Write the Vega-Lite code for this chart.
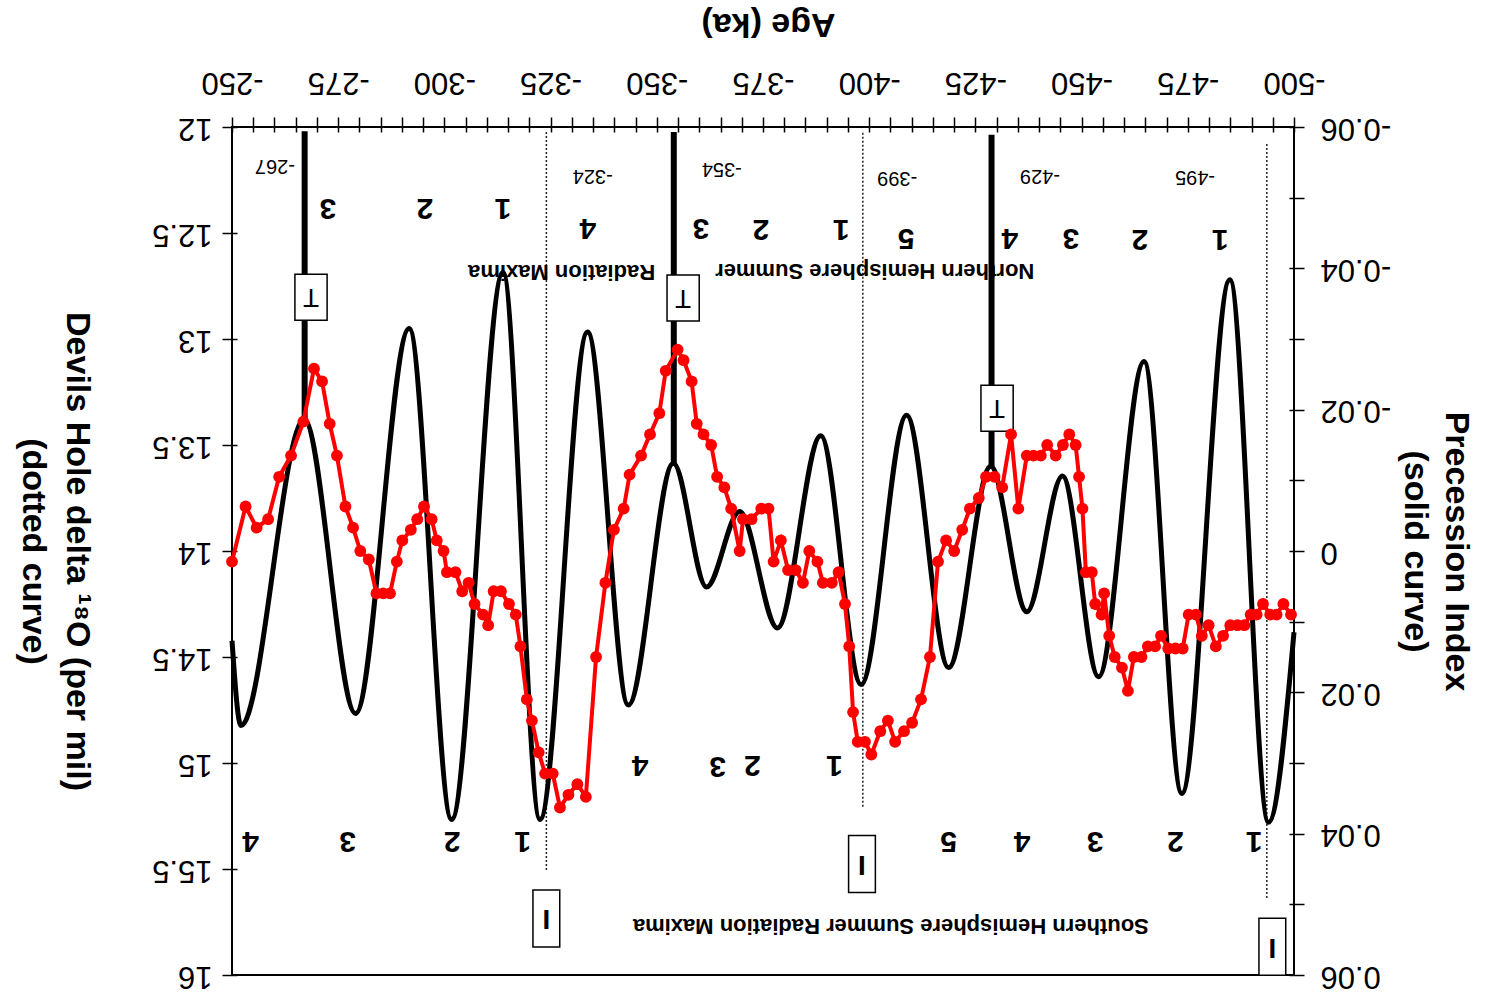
{
  "$schema": "https://vega.github.io/schema/vega-lite/v6.json",
  "width": 1062,
  "height": 848,
  "autosize": {"type": "none"},
  "padding": {"left": 232, "top": 127, "right": 192, "bottom": 25},
  "background": "white",
  "config": {
    "font": "Liberation Sans",
    "view": {"stroke": "black", "strokeWidth": 2},
    "axis": {"grid": false, "labelColor": "black", "tickColor": "black", "titleColor": "black", "labelFont": "Liberation Sans", "titleFont": "Liberation Sans", "labelOverlap": false, "labelFlush": false, "labelBound": false}
  },
  "datasets": {
    "precession": [
      {"age": -250, "p": 0.0127}, {"age": -252.1, "p": 0.0247}, {"age": -267, "p": -0.0186}, {"age": -279.1, "p": 0.023},
      {"age": -291.7, "p": -0.0315}, {"age": -301.7, "p": 0.038}, {"age": -313.8, "p": -0.0394}, {"age": -322.5, "p": 0.038},
      {"age": -333.7, "p": -0.031}, {"age": -343.3, "p": 0.0218}, {"age": -353.9, "p": -0.0124}, {"age": -361.7, "p": 0.0051},
      {"age": -369.5, "p": -0.0056}, {"age": -378.4, "p": 0.0109}, {"age": -388.6, "p": -0.0163}, {"age": -398.1, "p": 0.0189},
      {"age": -408.8, "p": -0.0192}, {"age": -418.7, "p": 0.0165}, {"age": -428.6, "p": -0.012}, {"age": -437.1, "p": 0.0086},
      {"age": -445.5, "p": -0.0106}, {"age": -454, "p": 0.0178}, {"age": -464.7, "p": -0.0268}, {"age": -473.6, "p": 0.0343},
      {"age": -484.9, "p": -0.0384}, {"age": -494, "p": 0.0384}, {"age": -500, "p": 0.0115}
    ],
    "d18o": [
      {"age": -250.0, "d": 14.05}, {"age": -253.2, "d": 13.79}, {"age": -255.8, "d": 13.89}, {"age": -258.5, "d": 13.85},
      {"age": -261.1, "d": 13.65}, {"age": -263.9, "d": 13.55}, {"age": -266.8, "d": 13.39}, {"age": -269.3, "d": 13.14},
      {"age": -271.2, "d": 13.2}, {"age": -273.0, "d": 13.4}, {"age": -274.7, "d": 13.55}, {"age": -276.7, "d": 13.79},
      {"age": -278.5, "d": 13.89}, {"age": -280.2, "d": 14.0}, {"age": -282.2, "d": 14.04}, {"age": -284.0, "d": 14.2},
      {"age": -285.6, "d": 14.2}, {"age": -287.2, "d": 14.2}, {"age": -288.8, "d": 14.05}, {"age": -290.1, "d": 13.95},
      {"age": -292.1, "d": 13.9}, {"age": -293.6, "d": 13.85}, {"age": -295.2, "d": 13.79}, {"age": -297.0, "d": 13.85},
      {"age": -298.2, "d": 13.95}, {"age": -299.8, "d": 14.0}, {"age": -300.6, "d": 14.1}, {"age": -302.6, "d": 14.1},
      {"age": -304.2, "d": 14.19}, {"age": -305.7, "d": 14.15}, {"age": -307.1, "d": 14.25}, {"age": -309.1, "d": 14.3},
      {"age": -310.3, "d": 14.35}, {"age": -311.6, "d": 14.19}, {"age": -313.3, "d": 14.19}, {"age": -315.2, "d": 14.25},
      {"age": -316.8, "d": 14.3}, {"age": -317.9, "d": 14.45}, {"age": -319.4, "d": 14.7}, {"age": -320.6, "d": 14.8},
      {"age": -322.2, "d": 14.95}, {"age": -323.7, "d": 15.05}, {"age": -325.5, "d": 15.05}, {"age": -327.2, "d": 15.21},
      {"age": -329.2, "d": 15.15}, {"age": -331.3, "d": 15.1}, {"age": -333.3, "d": 15.16}, {"age": -335.7, "d": 14.5},
      {"age": -337.9, "d": 14.15}, {"age": -339.9, "d": 13.9}, {"age": -342.2, "d": 13.8}, {"age": -343.6, "d": 13.64},
      {"age": -346.3, "d": 13.55}, {"age": -348.4, "d": 13.45}, {"age": -350.6, "d": 13.35}, {"age": -352.1, "d": 13.15},
      {"age": -354.9, "d": 13.05}, {"age": -356.3, "d": 13.1}, {"age": -358.2, "d": 13.2}, {"age": -359.4, "d": 13.4},
      {"age": -361.0, "d": 13.45}, {"age": -362.8, "d": 13.5}, {"age": -364.2, "d": 13.65}, {"age": -365.9, "d": 13.7},
      {"age": -367.5, "d": 13.8}, {"age": -369.5, "d": 14.0}, {"age": -370.3, "d": 13.85}, {"age": -372.3, "d": 13.85},
      {"age": -374.6, "d": 13.8}, {"age": -376.3, "d": 13.8}, {"age": -377.5, "d": 14.05}, {"age": -379.2, "d": 13.95},
      {"age": -380.9, "d": 14.09}, {"age": -382.7, "d": 14.09}, {"age": -384.4, "d": 14.15}, {"age": -385.9, "d": 14.0},
      {"age": -387.8, "d": 14.05}, {"age": -389.1, "d": 14.15}, {"age": -391.2, "d": 14.15}, {"age": -392.8, "d": 14.1},
      {"age": -394.3, "d": 14.25}, {"age": -395.3, "d": 14.45}, {"age": -396.2, "d": 14.76}, {"age": -397.3, "d": 14.9},
      {"age": -399.0, "d": 14.9}, {"age": -400.5, "d": 14.96}, {"age": -402.6, "d": 14.85}, {"age": -404.4, "d": 14.8},
      {"age": -406.1, "d": 14.9}, {"age": -408.2, "d": 14.85}, {"age": -410.1, "d": 14.81}, {"age": -412.2, "d": 14.7},
      {"age": -414.3, "d": 14.5}, {"age": -416.2, "d": 14.05}, {"age": -418.1, "d": 13.95}, {"age": -420.0, "d": 14.0},
      {"age": -421.9, "d": 13.9}, {"age": -423.7, "d": 13.8}, {"age": -425.8, "d": 13.75}, {"age": -427.5, "d": 13.65},
      {"age": -429.5, "d": 13.65}, {"age": -431.3, "d": 13.7}, {"age": -433.4, "d": 13.45}, {"age": -435.1, "d": 13.8},
      {"age": -437.1, "d": 13.55}, {"age": -438.7, "d": 13.55}, {"age": -440.4, "d": 13.55}, {"age": -441.9, "d": 13.5},
      {"age": -443.9, "d": 13.55}, {"age": -445.6, "d": 13.5}, {"age": -447.1, "d": 13.45}, {"age": -448.6, "d": 13.5},
      {"age": -449.4, "d": 13.65}, {"age": -450.2, "d": 13.8}, {"age": -451.0, "d": 14.1}, {"age": -452.4, "d": 14.1},
      {"age": -453.2, "d": 14.25}, {"age": -454.7, "d": 14.3}, {"age": -455.3, "d": 14.2}, {"age": -456.5, "d": 14.4},
      {"age": -457.8, "d": 14.5}, {"age": -459.5, "d": 14.55}, {"age": -460.9, "d": 14.66}, {"age": -462.3, "d": 14.5},
      {"age": -464.1, "d": 14.5}, {"age": -465.6, "d": 14.45}, {"age": -467.3, "d": 14.45}, {"age": -468.7, "d": 14.4},
      {"age": -470.4, "d": 14.46}, {"age": -472.1, "d": 14.46}, {"age": -473.8, "d": 14.46}, {"age": -475.2, "d": 14.3},
      {"age": -476.9, "d": 14.3}, {"age": -478.3, "d": 14.4}, {"age": -479.9, "d": 14.35}, {"age": -481.6, "d": 14.45},
      {"age": -483.3, "d": 14.4}, {"age": -485.0, "d": 14.35}, {"age": -486.7, "d": 14.35}, {"age": -488.3, "d": 14.35},
      {"age": -489.8, "d": 14.3}, {"age": -491.2, "d": 14.3}, {"age": -492.7, "d": 14.25}, {"age": -494.4, "d": 14.3},
      {"age": -495.9, "d": 14.3}, {"age": -497.5, "d": 14.25}, {"age": -499.3, "d": 14.3}
    ],
    "events": [
      {"age": -267.1, "p": -0.0594, "p2": -0.0186},
      {"age": -354.0, "p": -0.0593, "p2": -0.0124},
      {"age": -428.8, "p": -0.0589, "p2": -0.012}
    ],
    "dotted": [
      {"age": -324.0, "p": -0.0593, "p2": 0.0453},
      {"age": -398.5, "p": -0.0592, "p2": 0.0364},
      {"age": -493.6, "p": -0.0576, "p2": 0.0491}
    ],
    "numbers": [
      {"age": -272.6, "p": -0.0485, "label": "3"}, {"age": -295.4, "p": -0.0485, "label": "2"}, {"age": -313.8, "p": -0.0485, "label": "1"},
      {"age": -333.8, "p": -0.0457, "label": "4"}, {"age": -360.4, "p": -0.0457, "label": "3"}, {"age": -374.5, "p": -0.0456, "label": "2"},
      {"age": -393.4, "p": -0.0455, "label": "1"}, {"age": -408.7, "p": -0.0443, "label": "5"}, {"age": -433.1, "p": -0.0443, "label": "4"},
      {"age": -447.5, "p": -0.0443, "label": "3"}, {"age": -463.7, "p": -0.0442, "label": "2"}, {"age": -482.6, "p": -0.0442, "label": "1"},
      {"age": -346.1, "p": 0.0303, "label": "4"}, {"age": -364.3, "p": 0.0304, "label": "3"}, {"age": -372.5, "p": 0.0303, "label": "2"},
      {"age": -391.8, "p": 0.0303, "label": "1"},
      {"age": -254.4, "p": 0.041, "label": "4"}, {"age": -277.2, "p": 0.041, "label": "3"}, {"age": -301.8, "p": 0.041, "label": "2"},
      {"age": -318.4, "p": 0.041, "label": "1"}, {"age": -418.7, "p": 0.041, "label": "5"}, {"age": -436.0, "p": 0.041, "label": "4"},
      {"age": -453.2, "p": 0.041, "label": "3"}, {"age": -472.1, "p": 0.041, "label": "2"}, {"age": -490.6, "p": 0.041, "label": "1"}
    ],
    "agelabels": [
      {"age": -260.1, "p": -0.0545, "label": "-267"}, {"age": -334.9, "p": -0.0531, "label": "-324"},
      {"age": -365.3, "p": -0.0541, "label": "-354"}, {"age": -406.6, "p": -0.0528, "label": "-399"},
      {"age": -440.2, "p": -0.0531, "label": "-429"}, {"age": -476.7, "p": -0.0529, "label": "-495"}
    ],
    "captions": [
      {"age": -327.6, "p": -0.0395, "label": "Radiation Maxima"},
      {"age": -401.3, "p": -0.0396, "label": "Northern Hemisphere Summer"},
      {"age": -405.1, "p": 0.053, "label": "Southern Hemisphere Summer Radiation Maxima"}
    ],
    "tboxes": [
      {"age": -268.6, "p": -0.0359, "label": "T"}, {"age": -356.2, "p": -0.0358, "label": "T"}, {"age": -430.1, "p": -0.0202, "label": "T"}
    ],
    "iboxes": [
      {"age": -324.0, "p": 0.052, "label": "I"}, {"age": -398.3, "p": 0.0443, "label": "I"}, {"age": -494.9, "p": 0.056, "label": "I"}
    ]
  },
  "encoding": {
    "x": {
      "field": "age", "type": "quantitative",
      "scale": {"domain": [-500, -250], "reverse": true, "nice": false, "zero": false},
      "axis": {
        "orient": "top",
        "values": [-250,-255,-260,-265,-270,-275,-280,-285,-290,-295,-300,-305,-310,-315,-320,-325,-330,-335,-340,-345,-350,-355,-360,-365,-370,-375,-380,-385,-390,-395,-400,-405,-410,-415,-420,-425,-430,-435,-440,-445,-450,-455,-460,-465,-470,-475,-480,-485,-490,-495,-500],
        "labelExpr": "datum.value % 25 == 0 ? '' + datum.value : ''",
        "labelAngle": 180, "labelAlign": "center", "labelBaseline": "top",
        "labelFontSize": 31, "labelPadding": 21,
        "domain": false, "offset": -5, "tickSize": 15, "tickWidth": 1.5,
        "title": "Age (ka)", "titleAngle": 180, "titleFontSize": 34, "titleFontWeight": "bold",
        "titleAlign": "center", "titleBaseline": "middle", "titleX": 536, "titleY": -109
      }
    }
  },
  "layer": [
    {
      "encoding": {
        "y": {
          "field": "p", "type": "quantitative",
          "scale": {"domain": [-0.06, 0.06], "reverse": true, "nice": false, "zero": false},
          "axis": {
            "orient": "right",
            "values": [-0.06,-0.05,-0.04,-0.03,-0.02,-0.01,0,0.01,0.02,0.03,0.04,0.05,0.06],
            "labelExpr": "round(datum.value*100) % 2 == 0 ? '' + datum.value : ''",
            "labelAngle": 180, "labelAlign": "right", "labelBaseline": "middle",
            "labelFontSize": 31, "labelPadding": 16,
            "domain": false, "offset": -5, "tickSize": 15, "tickWidth": 1.5,
            "title": ["Precession Index", "(solid curve)"], "titleAngle": 90, "titleFontSize": 34, "titleFontWeight": "bold",
            "titleAlign": "center", "titleBaseline": "middle", "titleLineHeight": 41, "titleX": 166, "titleY": 424
          }
        }
      },
      "layer": [
        {
          "data": {"values": [{}]},
          "mark": {"type": "rule", "color": "black", "strokeWidth": 1.5},
          "encoding": {"x": {"datum": -500}, "x2": {"datum": -250}, "y": {"datum": 0}}
        },
        {
          "data": {"name": "dotted"},
          "mark": {"type": "rule", "color": "#222222", "strokeWidth": 1.5, "strokeDash": [2, 2]},
          "encoding": {"y2": {"field": "p2"}}
        },
        {
          "data": {"name": "precession"},
          "mark": {"type": "line", "color": "black", "strokeWidth": 5, "interpolate": "monotone"},
          "encoding": {"order": {"field": "age", "sort": "descending"}}
        },
        {
          "data": {"name": "events"},
          "mark": {"type": "rule", "color": "black", "strokeWidth": 6},
          "encoding": {"y2": {"field": "p2"}}
        },
        {
          "data": {"name": "numbers"},
          "mark": {"type": "text", "angle": 180, "align": "center", "baseline": "middle", "fontSize": 30, "fontWeight": "bold", "color": "black"},
          "encoding": {"text": {"field": "label"}}
        },
        {
          "data": {"name": "agelabels"},
          "mark": {"type": "text", "angle": 180, "align": "center", "baseline": "middle", "fontSize": 20, "color": "black"},
          "encoding": {"text": {"field": "label"}}
        },
        {
          "data": {"name": "captions"},
          "mark": {"type": "text", "angle": 180, "align": "center", "baseline": "middle", "fontSize": 22, "fontWeight": "bold", "color": "black"},
          "encoding": {"text": {"field": "label"}}
        },
        {
          "data": {"name": "tboxes"},
          "mark": {"type": "point", "shape": "M-0.7,-1H0.7V1H-0.7Z", "size": 2116, "filled": true, "fill": "white", "stroke": "black", "strokeWidth": 1.5, "opacity": 1}
        },
        {
          "data": {"name": "tboxes"},
          "mark": {"type": "text", "angle": 180, "align": "center", "baseline": "middle", "fontSize": 26, "color": "black"},
          "encoding": {"text": {"field": "label"}}
        },
        {
          "data": {"name": "iboxes"},
          "mark": {"type": "point", "shape": "M-0.47,-1H0.47V1H-0.47Z", "size": 3249, "filled": true, "fill": "white", "stroke": "black", "strokeWidth": 1.5, "opacity": 1}
        },
        {
          "data": {"name": "iboxes"},
          "mark": {"type": "text", "angle": 180, "align": "center", "baseline": "middle", "fontSize": 28, "fontWeight": "bold", "color": "black"},
          "encoding": {"text": {"field": "label"}}
        }
      ]
    },
    {
      "data": {"name": "d18o"},
      "encoding": {
        "y": {
          "field": "d", "type": "quantitative",
          "scale": {"domain": [12, 16], "reverse": true, "nice": false, "zero": false},
          "axis": {
            "orient": "left",
            "values": [12, 12.5, 13, 13.5, 14, 14.5, 15, 15.5, 16],
            "labelExpr": "'' + datum.value",
            "labelAngle": 180, "labelAlign": "left", "labelBaseline": "middle",
            "labelFontSize": 31, "labelPadding": 10,
            "domain": false, "offset": -5, "tickSize": 15, "tickWidth": 1.5,
            "title": ["Devils Hole delta ¹⁸O (per mil)", "(dotted curve)"], "titleAngle": 90, "titleFontSize": 34, "titleFontWeight": "bold",
            "titleAlign": "center", "titleBaseline": "middle", "titleLineHeight": 44, "titleX": -161, "titleY": 424
          }
        },
        "order": {"field": "age", "sort": "descending"}
      },
      "layer": [
        {"mark": {"type": "line", "color": "#ff0000", "strokeWidth": 4}},
        {"mark": {"type": "point", "shape": "circle", "filled": true, "color": "#ff0000", "size": 140, "opacity": 1}}
      ]
    }
  ],
  "resolve": {"scale": {"y": "independent"}, "axis": {"y": "independent"}}
}
